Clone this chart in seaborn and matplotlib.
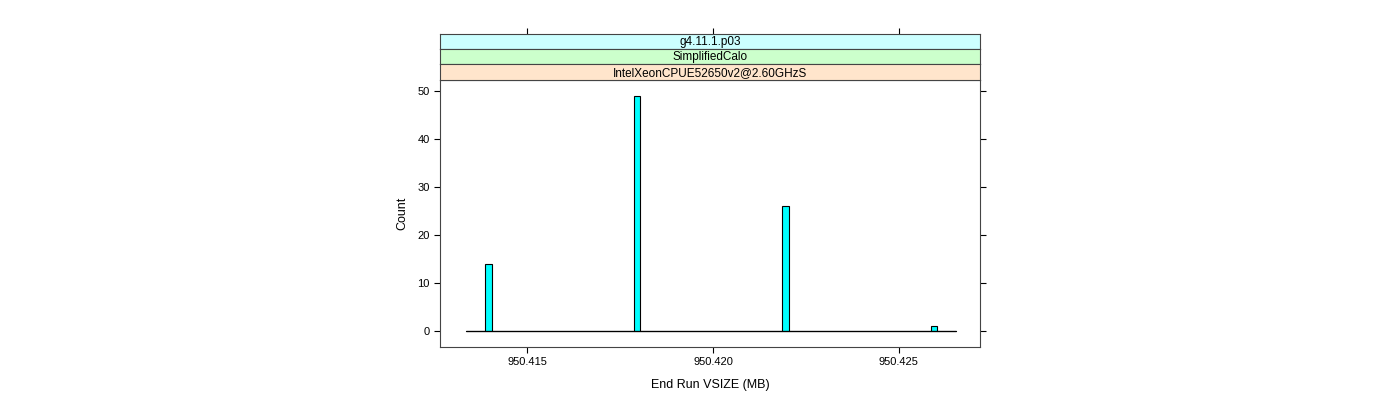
import numpy as np
import pandas as pd
import matplotlib
matplotlib.use("Agg")
import matplotlib.pyplot as plt
import seaborn as sns

vsize_mb = [950.414, 950.418, 950.422, 950.426]
counts = [14, 49, 26, 1]
strip_labels = ["g4.11.1.p03", "SimplifiedCalo", "IntelXeonCPUE52650v2@2.60GHzS"]
strip_colors = ["#ccffff", "#ccffcc", "#ffe5cc"]
x_ticks = [950.415, 950.420, 950.425]
y_ticks = [0, 10, 20, 30, 40, 50]

sns.set_style("white")
plt.rcParams['font.family'] = ['Liberation Sans', 'DejaVu Sans']
plt.rcParams.update({"text.color": "black", "axes.labelcolor": "black",
                     "xtick.color": "black", "ytick.color": "black"})

df = pd.DataFrame({"vsize": vsize_mb, "count": counts})

W, H = 1400, 400
fig = plt.figure(figsize=(14, 4), dpi=100)
L, R, T, B = 440, 980, 80, 347
ax = fig.add_axes([L / W, 1 - B / H, (R - L) / W, (B - T) / H])

binw = 0.0001735
nbins = 76
lo = 950.41336
hi = lo + nbins * binw
sns.histplot(data=df, x="vsize", weights="count", bins=nbins, binrange=(lo, hi),
             color="#00ffff", edgecolor="black", linewidth=0.8, alpha=1, ax=ax)
ax.plot([lo, hi], [0, 0], color="black", lw=0.9, zorder=5)

xlim = (950.41266, 950.42718)
ax.set_xlim(*xlim)
ax.set_ylim(-3.32, 52.28)
ax.set_xticks(x_ticks)
ax.set_xticklabels([f"{v:.3f}" for v in x_ticks], fontsize=8)
ax.set_yticks(y_ticks)
ax.set_yticklabels([str(v) for v in y_ticks], fontsize=8)
ax.tick_params(axis="both", direction="out", length=4.5, width=0.8,
               bottom=True, left=True, right=True, top=False, labelright=False, pad=3)
ax.set_xlabel("End Run VSIZE (MB)", fontsize=9, labelpad=8)
ax.set_ylabel("Count", fontsize=9, labelpad=6)
for s in ax.spines.values():
    s.set_color("#444444")
    s.set_linewidth(0.8)

# strips
strip_tops = [34, 49, 64]
strip_bots = [49, 64, 80]
for lab, col, t, b in zip(strip_labels, strip_colors, strip_tops, strip_bots):
    sax = fig.add_axes([L / W, 1 - b / H, (R - L) / W, (b - t) / H])
    sax.set_facecolor(col)
    sax.set_xlim(*xlim)
    sax.set_ylim(0, 1)
    sax.set_yticks([])
    if t == 34:
        sax.set_xticks(x_ticks)
        sax.tick_params(axis="x", direction="out", length=4.5, width=0.8,
                        top=True, bottom=False, labeltop=False, labelbottom=False)
    else:
        sax.set_xticks([])
    for s in sax.spines.values():
        s.set_color("#444444")
        s.set_linewidth(0.8)
    sax.text(0.5, 0.45, lab, transform=sax.transAxes, ha="center", va="center", fontsize=8.5)

fig.savefig("out.png", dpi=100)
